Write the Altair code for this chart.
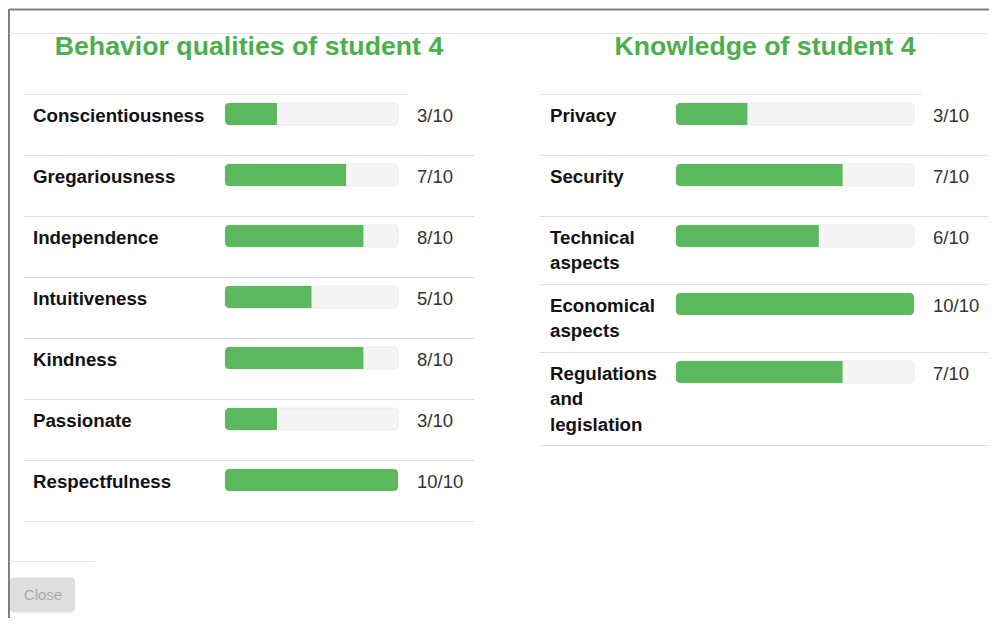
import textwrap
import altair as alt
import pandas as pd

# ---------------- data ----------------
behavior_labels = ["Conscientiousness", "Gregariousness", "Independence",
                   "Intuitiveness", "Kindness", "Passionate", "Respectfulness"]
behavior_scores = [3, 7, 8, 5, 8, 3, 10]
knowledge_labels = ["Privacy", "Security", "Technical aspects",
                    "Economical aspects", "Regulations and legislation"]
knowledge_scores = [3, 7, 6, 10, 7]
max_score = 10
panel_titles = ["Behavior qualities of student 4", "Knowledge of student 4"]
close_label = "Close"

# ---------------- layout / style ----------------
W, H = 981, 610
GREEN = "#5cb85c"
TITLE_GREEN = "#4cae4c"
TRACK = "#f5f5f5"
LINE = "#dedede"
FONT = "Liberation Sans"
OX, OY = -1, -1.5
TOP = 86.5 + OY + 0.5
LH = 25.5

panel_layout = [
    dict(left=16, right=465, head_right=399, label_x=25, bar0=217, bar1=390, value_x=409, wrap=20),
    dict(left=532, right=981, head_right=915, label_x=542, bar0=668, bar1=906, value_x=925, wrap=11),
]
for lay in panel_layout:
    for k in ("left", "head_right", "label_x", "bar0", "bar1", "value_x"):
        lay[k] += OX
panel_data = [(behavior_labels, behavior_scores), (knowledge_labels, knowledge_scores)]

xpix = alt.Scale(domain=[0, W], range=[0, W], nice=False, zero=False)
ypix = alt.Scale(domain=[0, H], range=[0, H], nice=False, zero=False)

row_records, rule_records, title_records = [], [], []
panel_rows = []
for pi, ((labels, scores), lay) in enumerate(zip(panel_data, panel_layout)):
    title_records.append(dict(x=(lay["left"] + lay["right"]) / 2, y=47 + OY, text=panel_titles[pi]))
    top = TOP
    rule_records.append(dict(x=lay["left"], x2=lay["head_right"], y=top))
    recs = []
    for lab, sc in zip(labels, scores):
        lines = textwrap.wrap(lab, width=lay["wrap"])
        h = int(max(61, 17 + LH * len(lines)))
        recs.append(dict(label="\n".join(lines), score=sc, zero=0, full=max_score,
                         label_x=lay["label_x"], value_x=lay["value_x"],
                         text_y=top + 27, bar_top=top + 8.5, bar_bot=top + 30.5,
                         value=f"{sc}/{max_score}"))
        top += h
        rule_records.append(dict(x=lay["left"], x2=lay["right"], y=top))
    panel_rows.append(pd.DataFrame(recs))
    row_records.extend(recs)

rows_df = pd.DataFrame(row_records)
rules_df = pd.DataFrame(rule_records)
titles_df = pd.DataFrame(title_records)

layers = []

# modal chrome
chrome_h = pd.DataFrame([dict(x=0, x2=W, y=0.5)])
layers.append(alt.Chart(chrome_h).mark_rule(color="#7f7f7f", strokeWidth=2).encode(
    x=alt.X("x:Q", scale=xpix, axis=None), x2="x2:Q", y=alt.Y("y:Q", scale=ypix, axis=None)))
chrome_v = pd.DataFrame([dict(x=0, y=0, y2=H)])
layers.append(alt.Chart(chrome_v).mark_rule(color="#7f7f7f", strokeWidth=2).encode(
    x=alt.X("x:Q", scale=xpix, axis=None), y=alt.Y("y:Q", scale=ypix, axis=None), y2="y2:Q"))
dividers = pd.DataFrame([dict(x=0, x2=W, y=24.5), dict(x=0, x2=85, y=552.5)])
layers.append(alt.Chart(dividers).mark_rule(color="#e5e5e5", strokeWidth=1).encode(
    x=alt.X("x:Q", scale=xpix, axis=None), x2="x2:Q", y=alt.Y("y:Q", scale=ypix, axis=None)))

# titles
layers.append(alt.Chart(titles_df).mark_text(
    align="center", baseline="alphabetic", font=FONT, fontWeight="bold",
    fontSize=26.7, color=TITLE_GREEN).encode(
    x=alt.X("x:Q", scale=xpix, axis=None), y=alt.Y("y:Q", scale=ypix, axis=None), text="text:N"))

# table separators
layers.append(alt.Chart(rules_df).mark_rule(color=LINE, strokeWidth=1).encode(
    x=alt.X("x:Q", scale=xpix, axis=None), x2="x2:Q", y=alt.Y("y:Q", scale=ypix, axis=None)))

# labels and values
layers.append(alt.Chart(rows_df).mark_text(
    align="left", baseline="alphabetic", font=FONT, fontWeight="bold", fontSize=18.7,
    lineBreak="\n", lineHeight=LH, color="#111111").encode(
    x=alt.X("label_x:Q", scale=xpix, axis=None), y=alt.Y("text_y:Q", scale=ypix, axis=None),
    text="label:N"))
layers.append(alt.Chart(rows_df).mark_text(
    align="left", baseline="alphabetic", font=FONT, fontSize=18.5, color="#333333").encode(
    x=alt.X("value_x:Q", scale=xpix, axis=None), y=alt.Y("text_y:Q", scale=ypix, axis=None),
    text="value:N"))

# progress bars (own x scale per panel)
for df, lay in zip(panel_rows, panel_layout):
    xs = alt.Scale(domain=[0, max_score], range=[lay["bar0"], lay["bar1"]], nice=False, zero=True)
    base = alt.Chart(df)
    layers.append(base.mark_rect(fill=TRACK, stroke="#ebebeb", strokeWidth=1, cornerRadius=4).encode(
        x=alt.X("zero:Q", scale=xs, axis=None), x2="full:Q",
        y=alt.Y("bar_top:Q", scale=ypix, axis=None), y2="bar_bot:Q"))
    layers.append(base.transform_filter(f"datum.score < {max_score}").mark_rect(
        fill=GREEN, cornerRadiusTopLeft=4, cornerRadiusBottomLeft=4).encode(
        x=alt.X("zero:Q", scale=xs, axis=None), x2="score:Q",
        y=alt.Y("bar_top:Q", scale=ypix, axis=None), y2="bar_bot:Q"))
    layers.append(base.transform_filter(f"datum.score >= {max_score}").mark_rect(
        fill=GREEN, cornerRadius=4).encode(
        x=alt.X("zero:Q", scale=xs, axis=None), x2="score:Q",
        y=alt.Y("bar_top:Q", scale=ypix, axis=None), y2="bar_bot:Q"))

# close button
btn = pd.DataFrame([dict(x=1, x2=66, y=568.5, y2=603.5, tx=34, ty=590.5, text=close_label)])
layers.append(alt.Chart(btn).mark_rect(fill="#dedede", cornerRadius=4).encode(
    x=alt.X("x:Q", scale=xpix, axis=None), x2="x2:Q",
    y=alt.Y("y:Q", scale=ypix, axis=None), y2="y2:Q"))
layers.append(alt.Chart(btn).mark_text(
    align="center", baseline="alphabetic", font=FONT, fontSize=15, color="#a9a9a9").encode(
    x=alt.X("tx:Q", scale=xpix, axis=None), y=alt.Y("ty:Q", scale=ypix, axis=None), text="text:N"))

chart = alt.layer(*layers).resolve_scale(x="independent").properties(
    width=W, height=H, padding=0, background="white",
    autosize=alt.AutoSizeParams(type="fit", contains="padding"),
).configure_view(stroke=None)

chart.save("out.html", embed_options={"renderer": "svg", "actions": False})
